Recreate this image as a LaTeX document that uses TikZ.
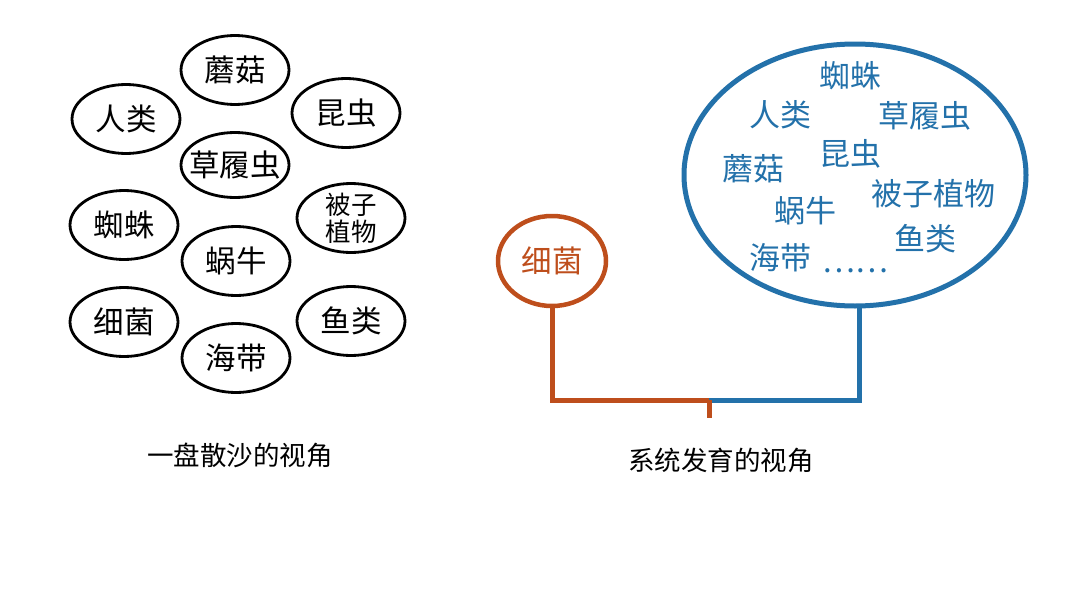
\documentclass[tikz,border=0pt]{standalone}
\usepackage{fontspec}
\setmainfont{Noto Sans CJK SC}
\usetikzlibrary{shapes.geometric}
\definecolor{treeblue}{RGB}{35,113,170}
\definecolor{treeorange}{RGB}{190,78,28}
\begin{document}
\begin{tikzpicture}[x=1pt,y=-1pt,
  blob/.style={ellipse,draw=black,line width=2.8pt,minimum width=108pt,minimum height=69pt,inner sep=0pt,font=\fontsize{30.5}{34}\selectfont},
  bname/.style={text=treeblue,font=\fontsize{31}{34}\selectfont,inner sep=0pt},
  captext/.style={font=\fontsize{26.5}{30}\selectfont,inner sep=0pt},
  branch/.style={line width=5pt}]
\useasboundingbox (0,0) rectangle (1080,608);
% left: scattered view
\node[blob] (mogu) at (235,70) {蘑菇};
\node[blob] (renlei) at (126,119) {人类};
\node[blob] (kunchong) at (346,113) {昆虫};
\node[blob,inner xsep=-8pt,minimum height=65pt] (caolv) at (235,165) {草履虫};
\node[blob] (zhizhu) at (124,225) {蜘蛛};
\node[blob,align=center,font=\fontsize{25.5}{27}\selectfont,inner ysep=-6pt] (beizi) at (351,218) {被子\\植物};
\node[blob] (woniu) at (236,261) {蜗牛};
\node[blob] (xijun) at (124,322) {细菌};
\node[blob] (yulei) at (351,321) {鱼类};
\node[blob] (haidai) at (236,358) {海带};
\node[captext] (capL) at (240,455) {一盘散沙的视角};
% right: phylogenetic view
\node[ellipse,draw=treeblue,line width=5pt,minimum width=342pt,minimum height=262pt,inner sep=0pt] (group) at (855,175) {};
\node[bname] (rZhizhu) at (850,76) {蜘蛛};
\node[bname] (rRenlei) at (780,115) {人类};
\node[bname] (rCaolv) at (925,116) {草履虫};
\node[bname] (rKunchong) at (850,154) {昆虫};
\node[bname] (rMogu) at (753,169) {蘑菇};
\node[bname] (rBeizi) at (933,194) {被子植物};
\node[bname] (rWoniu) at (805,211) {蜗牛};
\node[bname] (rYulei) at (925,239) {鱼类};
\node[bname] (rHaidai) at (780,258) {海带};
\node[bname] (rDots) at (855,271) {……};
\node[ellipse,draw=treeorange,line width=4.5pt,minimum width=108pt,minimum height=90pt,inner sep=0pt,text=treeorange,font=\fontsize{30.5}{34}\selectfont] (bact) at (552,261) {细菌};
\coordinate (root) at (709,400);
\coordinate (stem) at (709,418);
\draw[branch,treeorange] (bact.south) |- (root);
\draw[branch,treeblue] (group.272) |- (root);
\draw[branch,treeorange] (root) -- (stem);
\node[captext] (capR) at (721,460) {系统发育的视角};
\end{tikzpicture}
\end{document}
